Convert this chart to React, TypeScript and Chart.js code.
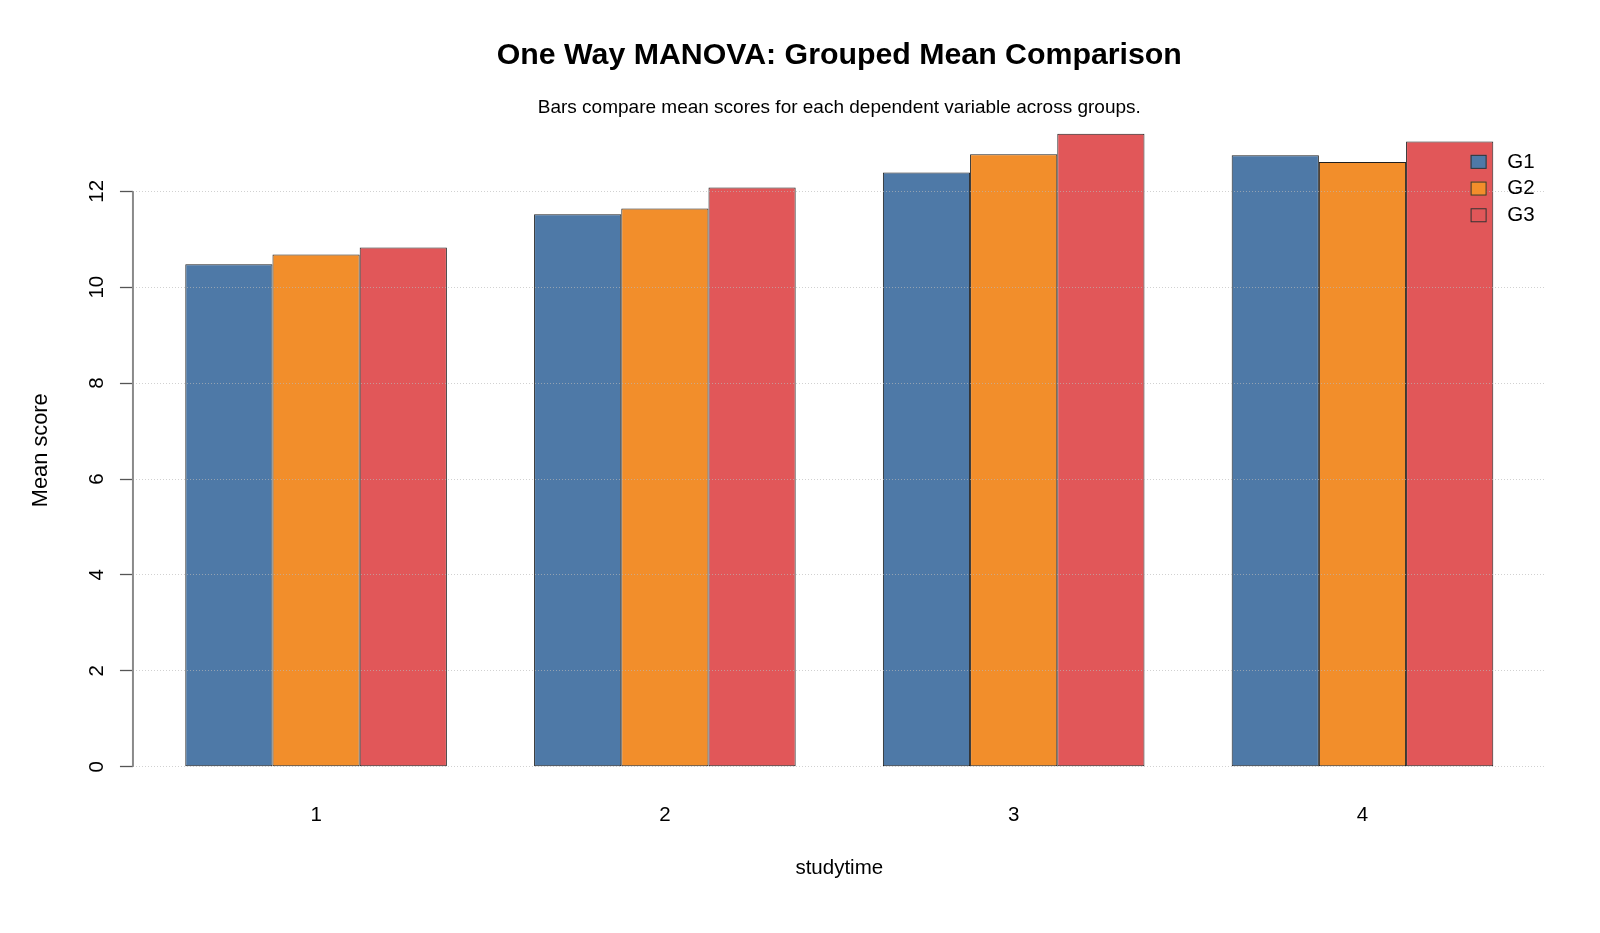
import React, { useEffect, useRef } from 'react';
import { Chart, registerables } from 'chart.js';

Chart.register(...registerables);

const categories = ['1', '2', '3', '4'];
const seriesNames = ['G1', 'G2', 'G3'];
const g1Values = [10.48, 11.52, 12.39, 12.75];
const g2Values = [10.68, 11.64, 12.77, 12.61];
const g3Values = [10.83, 12.08, 13.2, 13.04];
const yTickValues = [0, 2, 4, 6, 8, 10, 12];
const seriesColors = ['#4E79A7', '#F28E2B', '#E15759'];

const titleText = 'One Way MANOVA: Grouped Mean Comparison';
const subtitleText = 'Bars compare mean scores for each dependent variable across groups.';
const xTitle = 'studytime';
const yTitle = 'Mean score';

const FONT = "'Liberation Sans', Arial, Helvetica, sans-serif";
const AXIS_FONT = 20.5;

const rAxisPlugin = {
  id: 'rAxis',
  afterDraw(chart: any) {
    const { ctx, chartArea } = chart;
    const y = chart.scales.y;
    ctx.save();
    // R-style axis line spanning first to last tick
    ctx.strokeStyle = '#8a8a8a';
    ctx.lineWidth = 2;
    ctx.beginPath();
    ctx.moveTo(chartArea.left, y.getPixelForValue(yTickValues[0]));
    ctx.lineTo(chartArea.left, y.getPixelForValue(yTickValues[yTickValues.length - 1]));
    ctx.stroke();

    // legend (bty = "n")
    const boxW = 16;
    const boxH = 14;
    const left = chartArea.right - 75;
    const top0 = chartArea.top + 35.5;
    const step = 26.7;
    ctx.font = `${AXIS_FONT}px ${FONT}`;
    ctx.textBaseline = 'middle';
    ctx.textAlign = 'left';
    chart.data.datasets.forEach((ds: any, i: number) => {
      const top = top0 + i * step;
      ctx.fillStyle = ds.backgroundColor;
      ctx.fillRect(left, top, boxW, boxH);
      ctx.strokeStyle = '#333';
      ctx.lineWidth = 1;
      ctx.strokeRect(left + 0.5, top + 0.5, boxW - 1, boxH - 1);
      ctx.fillStyle = '#000';
      ctx.fillText(ds.label, left + 36.6, top + boxH / 2);
    });
    ctx.restore();
  },
};

export default function App() {
  const canvasRef = useRef<HTMLCanvasElement | null>(null);

  useEffect(() => {
    if (!canvasRef.current) return;
    Chart.defaults.font.family = FONT;
    const seriesValues = [g1Values, g2Values, g3Values];
    const chart = new Chart(canvasRef.current, {
      type: 'bar',
      data: {
        datasets: seriesNames.map((name, si) => ({
          label: name,
          data: categories.map((_, ci) => ({ x: ci + 1, y: seriesValues[si][ci] })),
          backgroundColor: seriesColors[si],
          borderColor: '#1f1f1f',
          borderWidth: 1,
          borderSkipped: false,
          categoryPercentage: 0.75,
          barPercentage: 1.0,
        })),
      },
      options: {
        animation: false,
        responsive: true,
        maintainAspectRatio: false,
        events: [],
        layout: { padding: { left: 0, right: 54.4, top: 0, bottom: 0 } },
        plugins: {
          legend: { display: false },
          tooltip: { enabled: false },
          title: {
            display: true,
            text: titleText,
            fullSize: false,
            color: '#000',
            font: { size: 30.3, weight: 'bold', family: FONT },
            padding: { top: 37.8, bottom: 0 },
          },
          subtitle: {
            display: true,
            text: subtitleText,
            fullSize: false,
            color: '#000',
            font: { size: 19, family: FONT },
            padding: { top: 22.4, bottom: 0 },
          },
        },
        scales: {
          x: {
            type: 'linear',
            min: 0.475,
            max: 4.525,
            offset: false,
            grid: { display: false, drawTicks: false },
            border: { display: false },
            afterBuildTicks: (s: any) => {
              s.ticks = categories.map((_, i) => ({ value: i + 1 }));
            },
            ticks: {
              autoSkip: false,
              maxRotation: 0,
              color: '#000',
              font: { size: AXIS_FONT },
              padding: 22,
              callback: (v: any) => categories[Math.round(Number(v)) - 1] ?? '',
            },
            title: {
              display: true,
              text: xTitle,
              color: '#000',
              font: { size: AXIS_FONT },
              padding: { top: 6, bottom: 52.7 },
            },
          },
          y: {
            type: 'linear',
            min: -0.3,
            max: 13.5,
            afterBuildTicks: (s: any) => {
              s.ticks = yTickValues.map((v) => ({ value: v }));
            },
            grid: {
              color: 'rgba(185,185,185,0.65)',
              lineWidth: 1,
              borderDash: [1, 2],
              drawTicks: true,
              tickLength: 13,
              tickColor: '#555',
              tickWidth: 1.3,
              z: 1,
            } as any,
            border: { display: false, dash: [1, 2] },
            ticks: {
              color: '#000',
              font: { size: AXIS_FONT },
              padding: 11.5,
              minRotation: 90,
              maxRotation: 90,
              crossAlign: 'center',
            },
            title: {
              display: true,
              text: yTitle,
              color: '#000',
              font: { size: 21.8 },
              padding: { top: 27.9, bottom: 18.3 },
            },
          },
        },
      } as any,
      plugins: [rAxisPlugin],
    });
    return () => chart.destroy();
  }, []);

  return (
    <div style={{ position: 'absolute', left: 0, top: 0, width: '1600px', height: '933px', background: '#fff' }}>
      <canvas ref={canvasRef} />
    </div>
  );
}
